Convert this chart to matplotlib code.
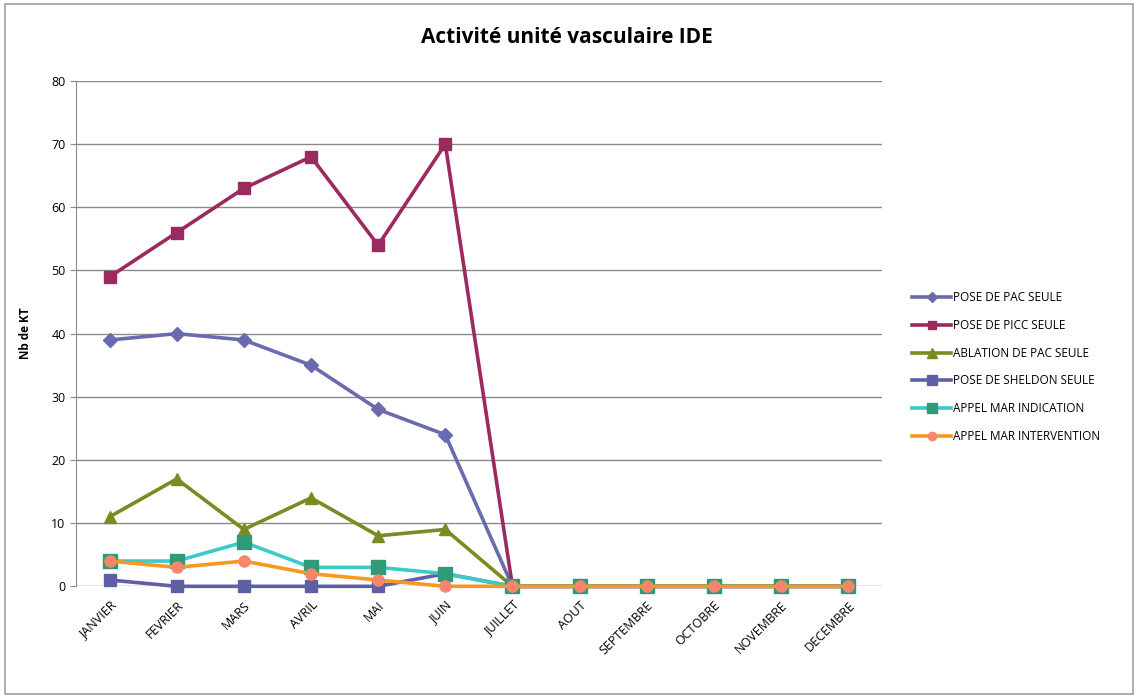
import numpy as np
import matplotlib
matplotlib.use("Agg")
import matplotlib.pyplot as plt
from matplotlib.patches import Rectangle

plt.rcParams['font.family'] = ['Open Sans', 'DejaVu Sans']

mois = ["JANVIER", "FEVRIER", "MARS", "AVRIL", "MAI", "JUIN", "JUILLET",
        "AOUT", "SEPTEMBRE", "OCTOBRE", "NOVEMBRE", "DECEMBRE"]

pose_pac = [39, 40, 39, 35, 28, 24, 0, 0, 0, 0, 0, 0]
pose_picc = [49, 56, 63, 68, 54, 70, 0, 0, 0, 0, 0, 0]
ablation_pac = [11, 17, 9, 14, 8, 9, 0, 0, 0, 0, 0, 0]
pose_sheldon = [1, 0, 0, 0, 0, 2, 0, 0, 0, 0, 0, 0]
appel_indication = [4, 4, 7, 3, 3, 2, 0, 0, 0, 0, 0, 0]
appel_intervention = [4, 3, 4, 2, 1, 0, 0, 0, 0, 0, 0, 0]

series = [
    ("POSE DE PAC SEULE", pose_pac, '#6A6AAE', 'D', 7, '#6A6AAE'),
    ("POSE DE PICC SEULE", pose_picc, '#9B2B5E', 's', 8, '#9B2B5E'),
    ("ABLATION DE PAC SEULE", ablation_pac, '#7B8A22', '^', 9, '#7B8A22'),
    ("POSE DE SHELDON SEULE", pose_sheldon, '#5F5FA6', 's', 9, '#5F5FA6'),
    ("APPEL MAR INDICATION", appel_indication, '#3CC9C9', 's', 10, '#2E9A78'),
    ("APPEL MAR INTERVENTION", appel_intervention, '#F7991E', 'o', 8, '#F5866A'),
]

fig = plt.figure(figsize=(11.38, 6.98), dpi=100)
ax = fig.add_axes([0.0668, 0.160, 0.708, 0.724])

x = np.arange(len(mois))
for nom, vals, col, mk, ms, mcol in series:
    ax.plot(x, vals, color=col, lw=2.6, marker=mk, ms=ms, clip_on=False,
            markerfacecolor=mcol, markeredgecolor=mcol, label=nom)

ax.set_xlim(-0.5, 11.5)
ax.set_ylim(0, 80)
ax.set_yticks(range(0, 81, 10))
ax.yaxis.grid(True, color='#8a8a8a', lw=1)
ax.set_axisbelow(True)
ax.set_xticks(x)
ax.set_xticklabels(mois, rotation=45, ha='right', rotation_mode='anchor', fontsize=9)
ax.tick_params(axis='y', labelsize=9, length=4, color='#8a8a8a')
ax.tick_params(axis='x', length=0, pad=9)
for s in ['top', 'right', 'bottom']:
    ax.spines[s].set_visible(False)
ax.spines['left'].set_color('#8a8a8a')
ax.set_ylabel("Nb de KT", fontsize=8.5, fontweight='bold', labelpad=14)

fig.suptitle("Activité unité vasculaire IDE", x=0.498, y=0.962, fontsize=15, fontweight='bold')

ax.legend(loc='upper left', bbox_to_anchor=(1.025, 0.605), frameon=False,
          fontsize=8.5, labelspacing=1.25, handlelength=3.3, handletextpad=0.1,
          markerscale=0.75)

fig.patches.append(Rectangle((0.004, 0.006), 0.992, 0.988, transform=fig.transFigure,
                             fill=False, edgecolor='#a0a0a0', lw=1.2))

fig.savefig("out.png", dpi=100)
